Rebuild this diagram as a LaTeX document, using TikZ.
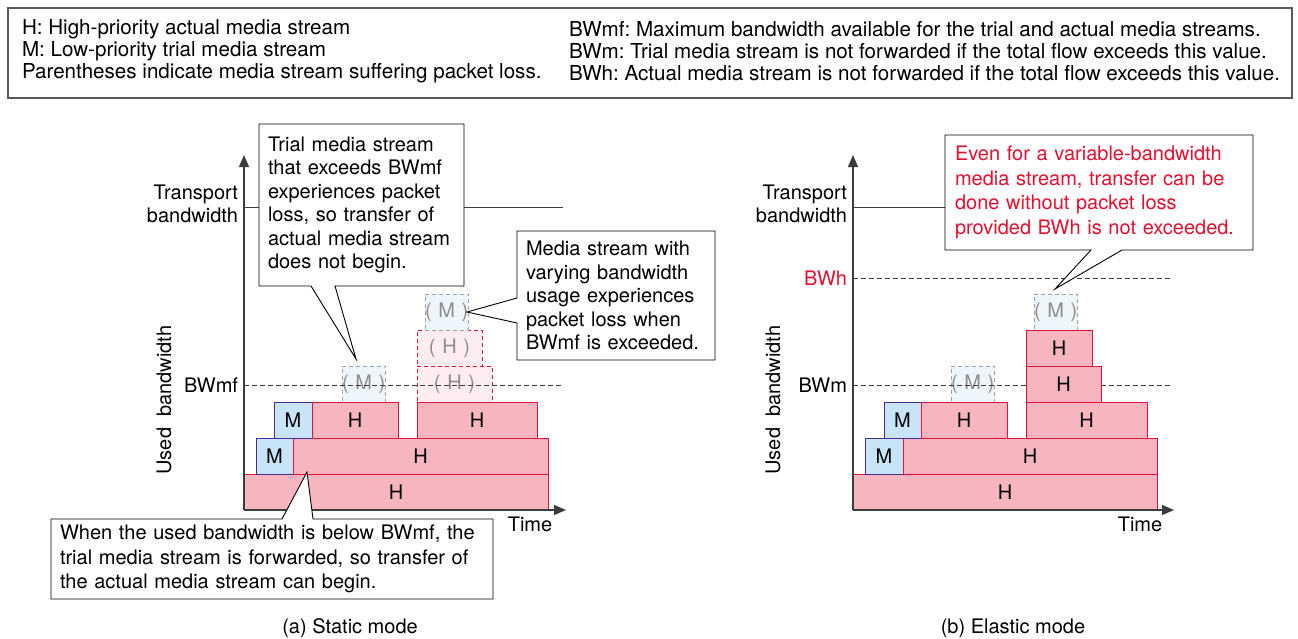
\documentclass[tikz,border=0pt]{standalone}
\usepackage{fontspec}
\setmainfont{TeX Gyre Heros}
\usetikzlibrary{arrows.meta,calc}
\frenchspacing

\definecolor{hfill}{RGB}{246,181,191}
\definecolor{hline}{RGB}{228,16,58}
\definecolor{mfill}{RGB}{199,228,248}
\definecolor{mline}{RGB}{72,42,150}
\definecolor{lossmfill}{RGB}{238,245,251}
\definecolor{losshfill}{RGB}{253,236,240}
\definecolor{lossgray}{RGB}{160,160,160}
\definecolor{losstext}{RGB}{140,140,140}
\definecolor{alertred}{RGB}{228,16,48}
\definecolor{axisgray}{RGB}{60,60,60}
\definecolor{framegray}{RGB}{90,90,90}

\begin{document}
\begin{tikzpicture}[x=1pt,y=-1pt,
  font=\fontsize{20}{23.5}\selectfont,
  every node/.style={inner sep=0pt,outer sep=0pt},
  hbar/.style={draw=hline,fill=hfill,line width=0.9pt,anchor=north west,minimum height=36pt},
  mbar/.style={draw=mline,fill=mfill,line width=0.9pt,anchor=north west,minimum height=36pt,minimum width=37pt},
  lossm/.style={draw=lossgray,fill=lossmfill,dash pattern=on 4pt off 3pt,line width=0.9pt,
    anchor=north west,minimum height=36pt,minimum width=38pt,text=losstext},
  lossh/.style={draw=hline,fill=losshfill,dash pattern=on 4pt off 3pt,line width=0.9pt,
    anchor=north west,minimum height=36pt,text=losstext},
  axisline/.style={draw=axisgray,line width=1.3pt,-{Triangle[length=12pt,width=10pt]}},
  toplevel/.style={draw=axisgray,line width=1pt},
  limitline/.style={draw=axisgray,line width=1pt,dash pattern=on 5pt off 3pt},
  callout/.style={draw=black,fill=white,line width=0.9pt,line join=miter},
  calltext/.style={align=left},
  axislabel/.style={anchor=east,align=right},
  legendtext/.style={anchor=west,align=left,font=\fontsize{20.6}{22}\selectfont},
]
% overall frame of the page
\useasboundingbox (0,0) rectangle (1298,638);

% ---------------- legend ----------------
\node[draw=framegray,line width=1.2pt,anchor=north west,minimum width=1284pt,minimum height=90pt] (legend) at (8,8) {};
\node[legendtext] (legendL) at (22,51)
  {H: High-priority actual media stream\\
   M: Low-priority trial media stream\\
   Parentheses indicate media stream suffering packet loss.};
\node[legendtext] (legendR) at (569,51)
  {BWmf: Maximum bandwidth available for the trial and actual media streams.\\
   BWm: Trial media stream is not forwarded if the total flow exceeds this value.\\
   BWh: Actual media stream is not forwarded if the total flow exceeds this value.};

% ================= (a) static mode =================
\coordinate (aO) at (244,510);
\coordinate (aY) at (244,155);
\coordinate (aX) at (566,510);
\coordinate (aT0) at (244,207);
\coordinate (aT1) at (563,207);
\coordinate (aL0) at (244,385);
\coordinate (aL1) at (563,385);

\node[axislabel] (aTrans) at (238,204) {Transport\\bandwidth};
\node[axislabel] (aBWmf) at (238,385) {BWmf};
\node[rotate=90] (aUsed) at (164,400) {Used\ \ bandwidth};
\node (aTime) at (530,524) {Time};

% streams suffering loss (the limit line runs across them)
\node[lossm] (aLM1) at (342,366) {(\,\,M\,\,)};
\node[lossh,minimum width=75pt] (aLH1) at (417,366) {(\,\,H\,\,)};
\node[lossh,minimum width=65pt] (aLH2) at (417,330) {(\,\,H\,\,)};
\node[lossm] (aLM2) at (425,294) {(\,\,M\,\,)};

\draw[toplevel] (aT0) -- (aT1);
\draw[limitline] (aL0) -- (aL1);

% stacked streams
\node[hbar,minimum width=304pt] (aH1) at (244,474) {H};
\node[mbar] (aM1) at (256,438) {M};
\node[hbar,minimum width=255pt] (aH2) at (293,438) {H};
\node[mbar,minimum width=38pt] (aM2) at (274,402) {M};
\node[hbar,minimum width=86pt] (aH3) at (312,402) {H};
\node[hbar,minimum width=120pt] (aH4) at (417,402) {H};

\draw[axisline] (aO) -- (aY);
\draw[axisline] (aO) -- (aX);

% callout above the first rejected trial stream
\coordinate (c1nw) at (259,124);
\coordinate (c1se) at (464,286);
\coordinate (c1b1) at (311,286);
\coordinate (c1b2) at (335,286);
\coordinate (c1tip) at (356,359);
\draw[callout] (c1nw) -- (c1nw -| c1se) -- (c1se) -- (c1b2) -- (c1tip) -- (c1b1) -- (c1nw |- c1se) -- cycle;
\node[calltext,text width=187pt] (c1) at ($(c1nw)!0.5!(c1se)$)
  {Trial media stream\\that exceeds BWmf\\experiences packet\\loss, so transfer of\\actual media stream\\does not begin.};

% callout beside the varying stream
\coordinate (c2nw) at (517,231);
\coordinate (c2se) at (715,360);
\coordinate (c2b1) at (517,298);
\coordinate (c2b2) at (517,323);
\coordinate (c2tip) at (467,312);
\draw[callout] (c2nw) -- (c2nw -| c2se) -- (c2se) -- (c2nw |- c2se) -- (c2b2) -- (c2tip) -- (c2b1) -- cycle;
\node[calltext,text width=180pt] (c2) at ($(c2nw)!0.5!(c2se)$)
  {Media stream with\\varying bandwidth\\usage experiences\\packet loss when\\BWmf is exceeded.};

% callout below the accepted trial stream
\coordinate (c3nw) at (51,519);
\coordinate (c3se) at (493,599);
\coordinate (c3b1) at (282,519);
\coordinate (c3b2) at (313,519);
\coordinate (c3tip) at (307,472);
\draw[callout] (c3nw) -- (c3b1) -- (c3tip) -- (c3b2) -- (c3nw -| c3se) -- (c3se) -- (c3nw |- c3se) -- cycle;
\node[calltext,text width=424pt,font=\fontsize{20}{24.5}\selectfont] (c3) at ($(c3nw)!0.5!(c3se)$)
  {When the used bandwidth is below BWmf, the\\trial media stream is forwarded, so transfer of\\the actual media stream can begin.};

\node (capA) at (350,628) {(a) Static mode};

% ================= (b) elastic mode =================
\coordinate (bO) at (853,510);
\coordinate (bY) at (853,155);
\coordinate (bX) at (1174,510);
\coordinate (bT0) at (853,207);
\coordinate (bT1) at (1170,207);
\coordinate (bH0) at (853,278);
\coordinate (bH1) at (1170,278);
\coordinate (bM0) at (853,385);
\coordinate (bM1) at (1170,385);

\node[axislabel] (bTrans) at (847,204) {Transport\\bandwidth};
\node[axislabel,text=alertred] (bBWh) at (847,278) {BWh};
\node[axislabel] (bBWm) at (847,385) {BWm};
\node[rotate=90] (bUsed) at (773,400) {Used\ \ bandwidth};
\node (bTime) at (1140,524) {Time};

% trial streams that are held back
\node[lossm] (bLM1) at (951,366) {(\,\,M\,\,)};
\node[lossm] (bLM2) at (1034,294) {(\,\,M\,\,)};

\draw[toplevel] (bT0) -- (bT1);
\draw[limitline] (bH0) -- (bH1);
\draw[limitline] (bM0) -- (bM1);

% stacked streams
\node[hbar,minimum width=304pt] (bH1) at (853,474) {H};
\node[mbar,minimum width=38pt] (bM1) at (865,438) {M};
\node[hbar,minimum width=254pt] (bH2) at (903,438) {H};
\node[mbar,minimum width=37pt] (bM2) at (884,402) {M};
\node[hbar,minimum width=86pt] (bH3) at (921,402) {H};
\node[hbar,minimum width=121pt] (bH4) at (1026,402) {H};
\node[hbar,minimum width=75pt] (bH5) at (1026,366) {H};
\node[hbar,minimum width=66pt] (bH6) at (1026,330) {H};

\draw[axisline] (bO) -- (bY);
\draw[axisline] (bO) -- (bX);

% callout above the variable-bandwidth stream
\coordinate (c4nw) at (945,135);
\coordinate (c4se) at (1253,250);
\coordinate (c4b1) at (1091,250);
\coordinate (c4b2) at (1122,250);
\coordinate (c4tip) at (1055,289);
\draw[callout] (c4nw) -- (c4nw -| c4se) -- (c4se) -- (c4b2) -- (c4tip) -- (c4b1) -- (c4nw |- c4se) -- cycle;
\node[calltext,text width=288pt,text=alertred,font=\fontsize{20}{24.5}\selectfont] (c4) at ($(c4nw)!0.5!(c4se)$)
  {Even for a variable-bandwidth\\media stream, transfer can be\\done without packet loss\\provided BWh is not exceeded.};

\node (capB) at (1013,628) {(b) Elastic mode};
\end{tikzpicture}
\end{document}
